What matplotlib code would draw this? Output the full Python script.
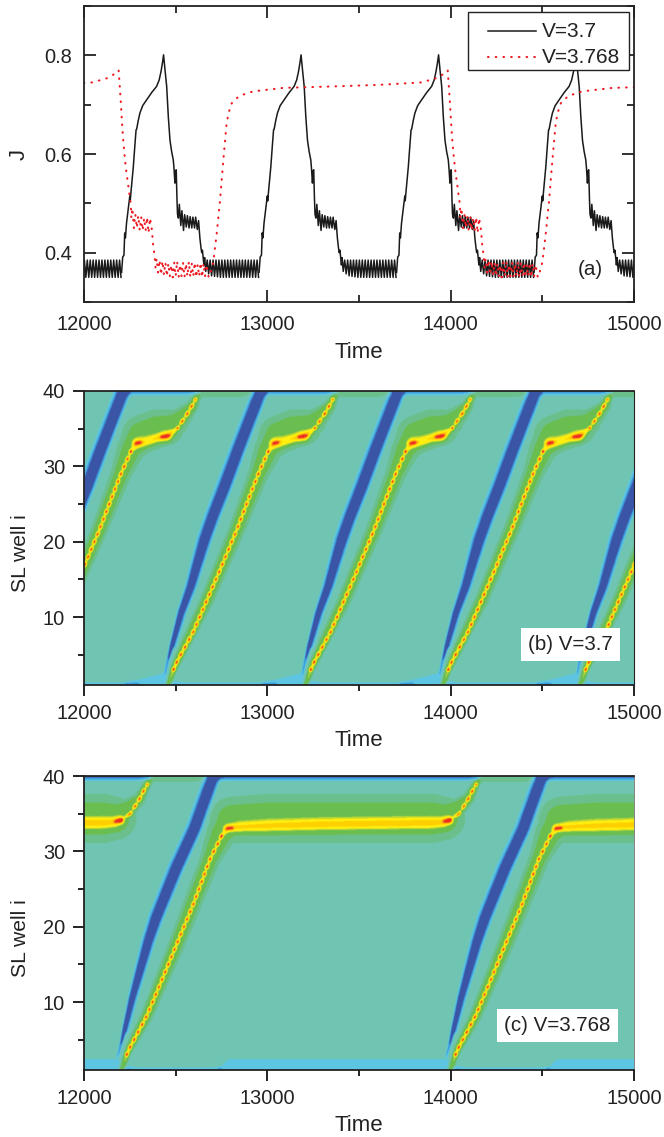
import numpy as np
import matplotlib
matplotlib.use('Agg')
import matplotlib.pyplot as plt
from matplotlib.colors import ListedColormap, BoundaryNorm
from matplotlib.patches import Rectangle
from matplotlib.ticker import MultipleLocator, FixedLocator

plt.rcParams['font.family'] = ['Liberation Sans', 'DejaVu Sans']

# panel (a): one cycle of each current trace
black_t = [12205, 12211, 12218, 12222, 12226, 12232, 12245, 12250, 12252, 12258, 12269, 12278, 12284, 12287,
           12296, 12305, 12320, 12342, 12370, 12396, 12410, 12420, 12428, 12434, 12442, 12451, 12460, 12469,
           12478, 12487, 12491, 12496, 12500, 12503, 12507, 12510, 12515, 12520, 12528, 12534, 12543, 12549,
           12558, 12564, 12573, 12579, 12588, 12594, 12603, 12609, 12618, 12625, 12632, 12638, 12642, 12646,
           12654, 12658, 12664, 12672, 12680, 12688, 12696, 12704, 12712, 12720, 12728, 12736, 12744, 12752,
           12760, 12768, 12776, 12784, 12792, 12800, 12808, 12816, 12824, 12832, 12840, 12848, 12856, 12864,
           12872, 12880, 12888, 12896, 12904, 12912, 12920, 12928, 12936, 12944, 12952]
black_j = [.36, .391, .395, .44, .43, .46, .50, .515, .505, .53, .574, .62, .649, .65,
           .668, .683, .698, .71, .725, .737, .75, .767, .785, .801, .77, .737, .675, .628,
           .605, .588, .57, .541, .566, .568, .51, .478, .47, .498, .455, .485, .445, .477,
           .452, .475, .45, .473, .45, .472, .45, .472, .447, .465, .43, .41, .40, .405,
           .375, .39, .362, .385, .357, .385, .353, .385, .352, .385, .351, .385, .35, .385,
           .35, .385, .35, .385, .35, .385, .35, .385, .35, .385, .35, .385, .35, .385,
           .35, .385, .35, .385, .35, .385, .35, .385, .35, .385, .35]
black_starts = [-750, 0, 750, 1500, 2250]

red_t = [12189, 12200, 12207, 12214, 12223, 12232, 12238, 12245, 12250, 12255, 12258, 12264, 12272, 12280,
         12288, 12296, 12304, 12312, 12320, 12328, 12336, 12344, 12352, 12360, 12369, 12374, 12378, 12385,
         12390, 12396, 12404, 12412, 12420, 12428, 12436, 12444, 12452, 12460, 12468, 12476, 12484, 12492,
         12500, 12508, 12516, 12524, 12532, 12540, 12548, 12556, 12564, 12572, 12580, 12588, 12596, 12604,
         12612, 12620, 12628, 12636, 12644, 12652, 12660, 12668, 12680, 12690, 12705, 12724, 12742, 12760,
         12778, 12790, 12806, 12842, 12880, 12923, 13087, 13360, 13600, 13840, 13924, 13960, 13984]
red_j = [.769, .71, .665, .628, .59, .561, .545, .527, .51, .50, .47, .49, .45, .478,
         .45, .475, .445, .472, .445, .47, .445, .472, .44, .47, .45, .43, .411, .395,
         .37, .388, .36, .385, .355, .383, .355, .38, .352, .378, .352, .375, .35, .38,
         .352, .383, .35, .376, .352, .38, .35, .378, .352, .382, .35, .378, .352, .38,
         .35, .376, .352, .38, .35, .378, .352, .376, .35, .36, .38, .439, .506, .588,
         .663, .685, .703, .716, .722, .727, .734, .737, .74, .745, .754, .762, .769]
red_starts = [-1795, 0, 1795]

# panel (b): wavefront tracks (time, well) for the cycle that starts near 12460
b_blue_t = [12442, 12454, 12478, 12527, 12578, 12614, 12651, 12696, 12760, 12833, 12955]
b_blue_i = [2.5, 4.0, 6.2, 10.6, 14.1, 17.2, 20.3, 23.4, 27.4, 32.2, 39.9]
b_blue_a = [-0.6, -1.2, -3, -3, -3, -3, -3, -3, -3, -3, -3]
b_blue_w = [1.2, 1.5, 1.9, 2.8, 3.6, 4.2, 4.8, 5.0, 5.2, 5.2, 5.2]
b_front_t = [12487, 12505, 12596, 12669, 12742, 12833, 12902, 12950, 13005]
b_front_i = [3, 4, 8, 12.2, 16.3, 21.6, 26, 29, 32]
b_flat_t = [13005, 13042, 13090, 13142, 13196, 13240, 13260]
b_flat_i = [32, 33.1, 33.3, 33.7, 34, 34.7, 35.1]
b_flat_a = [0.5, 1.6, 1.3, 1.5, 2.0, 1.2, 0.5]
b_flat_w = [1.5, 4.5, 4.5, 4.0, 4.5, 2.5, 1.5]
b_end_t = [13260, 13288, 13316, 13336, 13357]
b_end_i = [35.1, 36.1, 37.1, 38, 38.9]
b_halo_t = [12460, 12487, 12505, 12669, 12833, 12950, 13005, 13060, 13142, 13196, 13250, 13300, 13340, 13368]
b_halo_i = [1, 3, 4, 12.2, 21.6, 29, 32.3, 34.2, 35, 35.2, 35.9, 37, 38, 39.4]
b_halo_a = [1.5, 1.2, 0.9, 0.8, 0.8, 0.8, 0.8, 0.8, 0.8, 0.8, 0.8, 0.8, 0.8, 0.7]
b_halo_w = [3, 3, 3.5, 5.5, 6.5, 8, 11, 15, 15, 14, 10, 7, 5, 3]
b_spot_t = [[13030, 13055], [13175, 13215]]
b_spot_i = [[33.05, 33.2], [33.95, 34.05]]
b_top_blue_t = [12955, 13365]
b_top_green_t = [13365, 13705]
b_wedge_t = [12233, 12330, 12433]
b_wedge_w = [3, 8, 14]
b_strip_t = [12470, 13040]
b_starts = [-750, 0, 750, 1500, 2250]

# panel (c): same kind of tracks, longer plateau
c_blue_t = [12182, 12196, 12218, 12260, 12305, 12345, 12387, 12433, 12496, 12596, 12696]
c_blue_i = [2.8, 4.0, 6.2, 10.6, 14.6, 18.1, 21.2, 24, 27.8, 33.1, 39.9]
c_blue_a = [-0.6, -1.2, -3, -3, -3, -3, -3, -3, -3, -3, -3]
c_blue_w = [1.2, 1.5, 1.9, 2.8, 3.6, 4.2, 4.8, 5.0, 5.2, 5.2, 5.2]
c_front_t = [12232, 12250, 12342, 12415, 12505, 12596, 12687, 12751]
c_front_i = [3, 4, 8.2, 12.4, 17.7, 23, 29, 32.1]
c_flat_t = [12751, 12787, 12850, 13000, 13300, 13600, 13900, 13960, 13988]
c_flat_i = [32.1, 33.1, 33.25, 33.4, 33.6, 33.7, 33.8, 33.9, 34.1]
c_flat_a = [0.5, 1.5, 1.5, 1.6, 1.7, 1.7, 1.7, 1.6, 1.7]
c_flat_w = [1.5, 3.5, 4.5, 5.0, 5.0, 5.0, 5.0, 4.5, 4.0]
c_end_t = [13988, 14046, 14073, 14097, 14118, 14140]
c_end_i = [34.1, 35, 36, 37, 38, 38.9]
c_halo_t = [12205, 12232, 12250, 12342, 12505, 12687, 12751, 12810, 13000, 13900, 13960, 14046, 14097, 14148]
c_halo_i = [1, 3, 4, 8.2, 17.7, 29, 32.5, 34.2, 34.4, 34.4, 34.4, 36, 37, 39.4]
c_halo_a = [1.5, 1.2, 0.9, 0.8, 0.8, 0.8, 0.8, 0.8, 0.8, 0.8, 0.8, 0.8, 0.8, 0.7]
c_halo_w = [3, 3, 3.5, 5, 6.5, 8, 12, 18, 19, 19, 17, 7, 5, 3]
c_spot_t = [[12775, 12805], [13970, 14000]]
c_spot_i = [[33.05, 33.1], [34.05, 34.1]]
c_top_blue_t = [12696, 14140]
c_top_green_t = [14140, 14491]
c_wedge_t = [12740, 12810, 13985]
c_wedge_w = [3, 13, 13]
c_strip_t = [12215, 12740]
c_starts = [-1795, 0, 1795]

field_levels = [-9, -1.5, -0.8, -0.3, 0.15, 0.4, 1.0, 1.3, 2.0, 2.5, 3.0, 9]
field_colors = ['#3A55A6', '#3F9FDC', '#5EC6E2', '#70C6B1', '#6BC08C', '#6ABD50', '#BAD636', '#FFEE10',
                '#FFD000', '#F7941D', '#EE3124']

W, H = 664, 1137
PX = 550 / 3000   # pixels per time unit
PY = 294 / 39     # pixels per well
NX, NY = 1100, 588
grid_t = np.linspace(12000, 15000, NX)
grid_i = np.linspace(1, 40, NY)
XX, YY = np.meshgrid((grid_t - 12000) * PX, (grid_i - 1) * PY)


def add_band(Z, t, i, amp, w, beads=False):
    # bump along a track, measured in pixels so that the width looks the same in any direction
    t = np.asarray(t, float)
    i = np.asarray(i, float)
    amp = np.broadcast_to(amp, t.shape)
    w = np.broadcast_to(w, t.shape)
    x = (t - 12000) * PX
    y = (i - 1) * PY
    keep = np.zeros_like(Z)
    dx = XX[0, 1] - XX[0, 0]
    dy = YY[1, 0] - YY[0, 0]
    for k in range(len(x) - 1):
        m = 3 * max(w[k], w[k + 1])
        a0 = int(max(0, (min(x[k], x[k + 1]) - m) / dx))
        a1 = int(min(NX, (max(x[k], x[k + 1]) + m) / dx + 2))
        b0 = int(max(0, (min(y[k], y[k + 1]) - m) / dy))
        b1 = int(min(NY, (max(y[k], y[k + 1]) + m) / dy + 2))
        if a1 <= a0 or b1 <= b0:
            continue
        xs, ys = XX[b0:b1, a0:a1], YY[b0:b1, a0:a1]
        sx, sy = x[k + 1] - x[k], y[k + 1] - y[k]
        u = np.clip(((xs - x[k]) * sx + (ys - y[k]) * sy) / (sx * sx + sy * sy), 0, 1)
        d = np.hypot(xs - x[k] - u * sx, ys - y[k] - u * sy)
        val = (amp[k] + (amp[k + 1] - amp[k]) * u) * np.exp(-(d / (w[k] + (w[k + 1] - w[k]) * u)) ** 2)
        if beads:
            # one bead per well
            val = val * (1 + 4 * np.cos(np.pi * (i[k] + (i[k + 1] - i[k]) * u)) ** 2)
        part = keep[b0:b1, a0:a1]
        keep[b0:b1, a0:a1] = np.where(np.abs(val) > np.abs(part), val, part)
    Z += keep


def build_field(blue_t, blue_i, blue_a, blue_w, front_t, front_i, flat_t, flat_i, flat_a, flat_w, end_t, end_i,
                halo_t, halo_i, halo_a, halo_w, spot_t, spot_i, top_blue_t, top_green_t, top_amp,
                wedge_t, wedge_w, strip_t, starts):
    Z = np.zeros((NY, NX))
    for s in starts:
        bt = np.array(blue_t) + s
        bw = np.array(blue_w)
        add_band(Z, bt, blue_i, blue_a, bw)
        add_band(Z, bt[2:] + 1.2 * bw[2:] / PX, blue_i[2:], -0.85, 2.6)
        add_band(Z, np.array(front_t) + s, front_i, 0.5, 1.6, beads=True)
        add_band(Z, np.array(flat_t) + s, flat_i, flat_a, flat_w)
        add_band(Z, np.array(end_t) + s, end_i, 0.5, 1.6, beads=True)
        add_band(Z, np.array(halo_t) + s, halo_i, halo_a, halo_w)
        for st, si in zip(spot_t, spot_i):
            add_band(Z, np.array(st) + s, si, 1.1, 2.4)
        add_band(Z, np.array(top_blue_t) + s, [40, 40], top_amp, 3.5)
        add_band(Z, np.array(top_green_t) + s, [40, 40], 0.35, 6)
        add_band(Z, np.array(wedge_t) + s, [1, 1, 1], -0.6, wedge_w)
        add_band(Z, np.array(strip_t) + s, [1, 1], -0.6, 2.5)
    return Z


def place(top, bottom):
    return [84 / W, 1 - bottom / H, 550 / W, (bottom - top) / H]


def style_ticks(ax, inward):
    ax.set_xlim(12000, 15000)
    ax.xaxis.set_major_locator(MultipleLocator(1000))
    ax.xaxis.set_minor_locator(MultipleLocator(500))
    for sp in ax.spines.values():
        sp.set_linewidth(1.3)
        sp.set_color('#222222')
    if inward:
        ax.tick_params(which='both', direction='in', top=True, right=True, width=1.3, color='#222222')
        ax.tick_params(which='major', length=8.5)
        ax.tick_params(which='minor', length=5)
        ax.tick_params(axis='x', which='major', pad=9.5, labelsize=14.4, labelcolor='#222222')
        ax.tick_params(axis='y', which='major', pad=8.5, labelsize=14.4, labelcolor='#222222')
    else:
        ax.tick_params(which='both', direction='out', width=1.3, color='#111111')
        ax.tick_params(which='major', length=8)
        ax.tick_params(which='minor', length=4.5)
        ax.tick_params(axis='both', which='major', pad=5.5, labelsize=14.4, labelcolor='#222222')


fig = plt.figure(figsize=(W / 100, H / 100), dpi=100)
red_dots = dict(color='#EE1C25', lw=1.5, ls=(0, (0.3, 3.4)), dash_capstyle='round')

# panel (a)
ax = fig.add_axes(place(6, 302))
for s in black_starts:
    ax.plot(np.array(black_t) + s, black_j, color='#1a1a1a', lw=1.1)
for s in red_starts:
    ax.plot(np.array(red_t) + s, red_j, **red_dots)
ax.set_ylim(0.3, 0.9)
ax.yaxis.set_major_locator(MultipleLocator(0.2))
ax.yaxis.set_minor_locator(MultipleLocator(0.1))
style_ticks(ax, True)
ax.set_xlabel('Time', fontsize=16, color='#222222', va='top')
ax.xaxis.set_label_coords(0.5, -0.135)
ax.set_ylabel('J', fontsize=16, color='#222222', va='bottom')
ax.yaxis.set_label_coords(-0.098, 0.5)
ax.add_patch(Rectangle((0.698, 0.784), 0.293, 0.196, transform=ax.transAxes, fc='white', ec='#222222',
                       lw=1.0, zorder=5))
ax.plot([0.734, 0.821], [0.917, 0.917], transform=ax.transAxes, color='#1a1a1a', lw=1.1, zorder=6)
ax.plot([0.734, 0.821], [0.829, 0.829], transform=ax.transAxes, zorder=6, **red_dots)
ax.text(0.833, 0.915, 'V=3.7', transform=ax.transAxes, fontsize=15, va='center', color='#222222', zorder=6)
ax.text(0.833, 0.827, 'V=3.768', transform=ax.transAxes, fontsize=15, va='center', color='#222222', zorder=6)
ax.text(0.92, 0.111, '(a)', transform=ax.transAxes, fontsize=14.8, ha='center', va='center', color='#222222')

cmap = ListedColormap(field_colors)
norm = BoundaryNorm(field_levels, cmap.N)

# panel (b)
Z_b = build_field(b_blue_t, b_blue_i, b_blue_a, b_blue_w, b_front_t, b_front_i, b_flat_t, b_flat_i, b_flat_a,
                  b_flat_w, b_end_t, b_end_i, b_halo_t, b_halo_i, b_halo_a, b_halo_w, b_spot_t, b_spot_i,
                  b_top_blue_t, b_top_green_t, -1.2, b_wedge_t, b_wedge_w, b_strip_t, b_starts)
ax = fig.add_axes(place(391, 685))
ax.imshow(Z_b, cmap=cmap, norm=norm, origin='lower', aspect='auto', extent=(12000, 15000, 1, 40),
          interpolation='bilinear', interpolation_stage='rgba')
ax.set_ylim(1, 40)
ax.yaxis.set_major_locator(FixedLocator([10, 20, 30, 40]))
ax.yaxis.set_minor_locator(FixedLocator([5, 15, 25, 35]))
style_ticks(ax, False)
ax.spines['right'].set_linewidth(0.8)
ax.set_xlabel('Time', fontsize=16, color='#222222', va='top')
ax.xaxis.set_label_coords(0.5, -0.153)
ax.set_ylabel('SL well i', fontsize=15.2, color='#222222', va='bottom')
ax.yaxis.set_label_coords(-0.098, 0.449)
ax.text(0.8845, 0.139, '(b) V=3.7', transform=ax.transAxes, fontsize=14.8, ha='center', va='center',
        color='#222222', bbox=dict(fc='white', ec='none', pad=5))

# panel (c)
Z_c = build_field(c_blue_t, c_blue_i, c_blue_a, c_blue_w, c_front_t, c_front_i, c_flat_t, c_flat_i, c_flat_a,
                  c_flat_w, c_end_t, c_end_i, c_halo_t, c_halo_i, c_halo_a, c_halo_w, c_spot_t, c_spot_i,
                  c_top_blue_t, c_top_green_t, -1.8, c_wedge_t, c_wedge_w, c_strip_t, c_starts)
ax = fig.add_axes(place(776, 1070))
ax.imshow(Z_c, cmap=cmap, norm=norm, origin='lower', aspect='auto', extent=(12000, 15000, 1, 40),
          interpolation='bilinear', interpolation_stage='rgba')
ax.set_ylim(1, 40)
ax.yaxis.set_major_locator(FixedLocator([10, 20, 30, 40]))
ax.yaxis.set_minor_locator(FixedLocator([5, 15, 25, 35]))
style_ticks(ax, False)
ax.spines['right'].set_linewidth(0.4)
ax.set_xlabel('Time', fontsize=16, color='#222222', va='top')
ax.xaxis.set_label_coords(0.5, -0.153)
ax.set_ylabel('SL well i', fontsize=15.2, color='#222222', va='bottom')
ax.yaxis.set_label_coords(-0.098, 0.449)
ax.text(0.861, 0.151, '(c) V=3.768', transform=ax.transAxes, fontsize=14.8, ha='center', va='center',
        color='#222222', bbox=dict(fc='white', ec='none', pad=5))

fig.savefig('out.png', dpi=100)
